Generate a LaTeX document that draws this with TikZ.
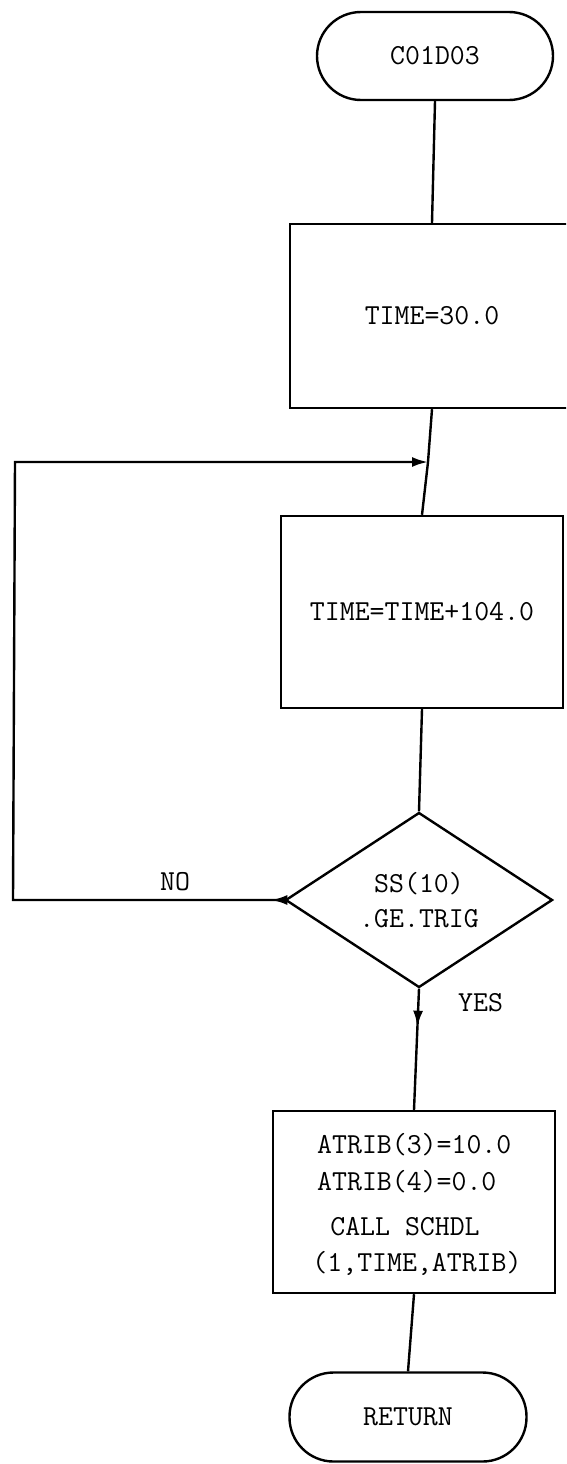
\documentclass[tikz,border=0pt]{standalone}
\usetikzlibrary{shapes.geometric,arrows.meta,decorations.markings}
\begin{document}
\begin{tikzpicture}[x=1pt,y=-1pt,line width=2.4pt,
  every node/.style={font=\ttfamily\fontsize{29}{35}\selectfont},
  term/.style={draw,rounded corners=44pt,minimum width=236pt,minimum height=88pt,inner sep=0pt},
  proc/.style={draw,inner sep=0pt},
  decide/.style={draw,diamond,aspect=1.526,inner sep=0pt,minimum width=267pt,minimum height=175pt,align=center},
  lbl/.style={inner sep=0pt},
  tipstyle/.tip={Latex[length=16pt,width=10pt]},
  midarrow/.style={postaction={decorate},decoration={markings,mark=at position #1 with {\arrow{tipstyle}}}}]
\useasboundingbox (0,0) rectangle (566,1464);
\clip (0,0) rectangle (566,1464);
% nodes
\node[term] (start) at (435,56) {C01D03};
\node[proc,minimum width=284pt,minimum height=184pt] (b1) at (432,316) {TIME=30.0};
\node[proc,minimum width=282pt,minimum height=192pt] (b2) at (422,612) {TIME=TIME+104.0};
\node[decide] (dec) at (419,900) {SS(10)\\.GE.TRIG};
\node[proc,minimum width=282pt,minimum height=182pt] (b3) at (414,1202) {};
\node[lbl,anchor=west] (t1) at (316,1145) {ATRIB(3)=10.0};
\node[lbl,anchor=west] (t2) at (316,1182) {ATRIB(4)=0.0};
\node[lbl] (t3) at (405,1227) {CALL SCHDL};
\node[lbl] (t4) at (417,1263) {(1,TIME,ATRIB)};
\node[term,minimum width=237pt,minimum height=89pt] (ret) at (408,1417) {RETURN};
\node[lbl] (no) at (175,882) {NO};
\node[lbl,anchor=west] (yes) at (457,1003) {YES};
% coordinates
\coordinate (j) at (428,462);
\coordinate (lb) at (13,900);
\coordinate (lt) at (15,462);
% connectors
\draw (start.south) -- (b1.north);
\draw (b1.south) -- (j) -- (b2.north);
\draw (b2.south) -- (dec.north);
\draw[midarrow=13pt,-{tipstyle}] (dec.west) -- (lb) -- (lt) -- (j);
\draw[midarrow=38pt] (dec.south) -- (b3.north);
\draw (b3.south) -- (ret.north);
\end{tikzpicture}
\end{document}
